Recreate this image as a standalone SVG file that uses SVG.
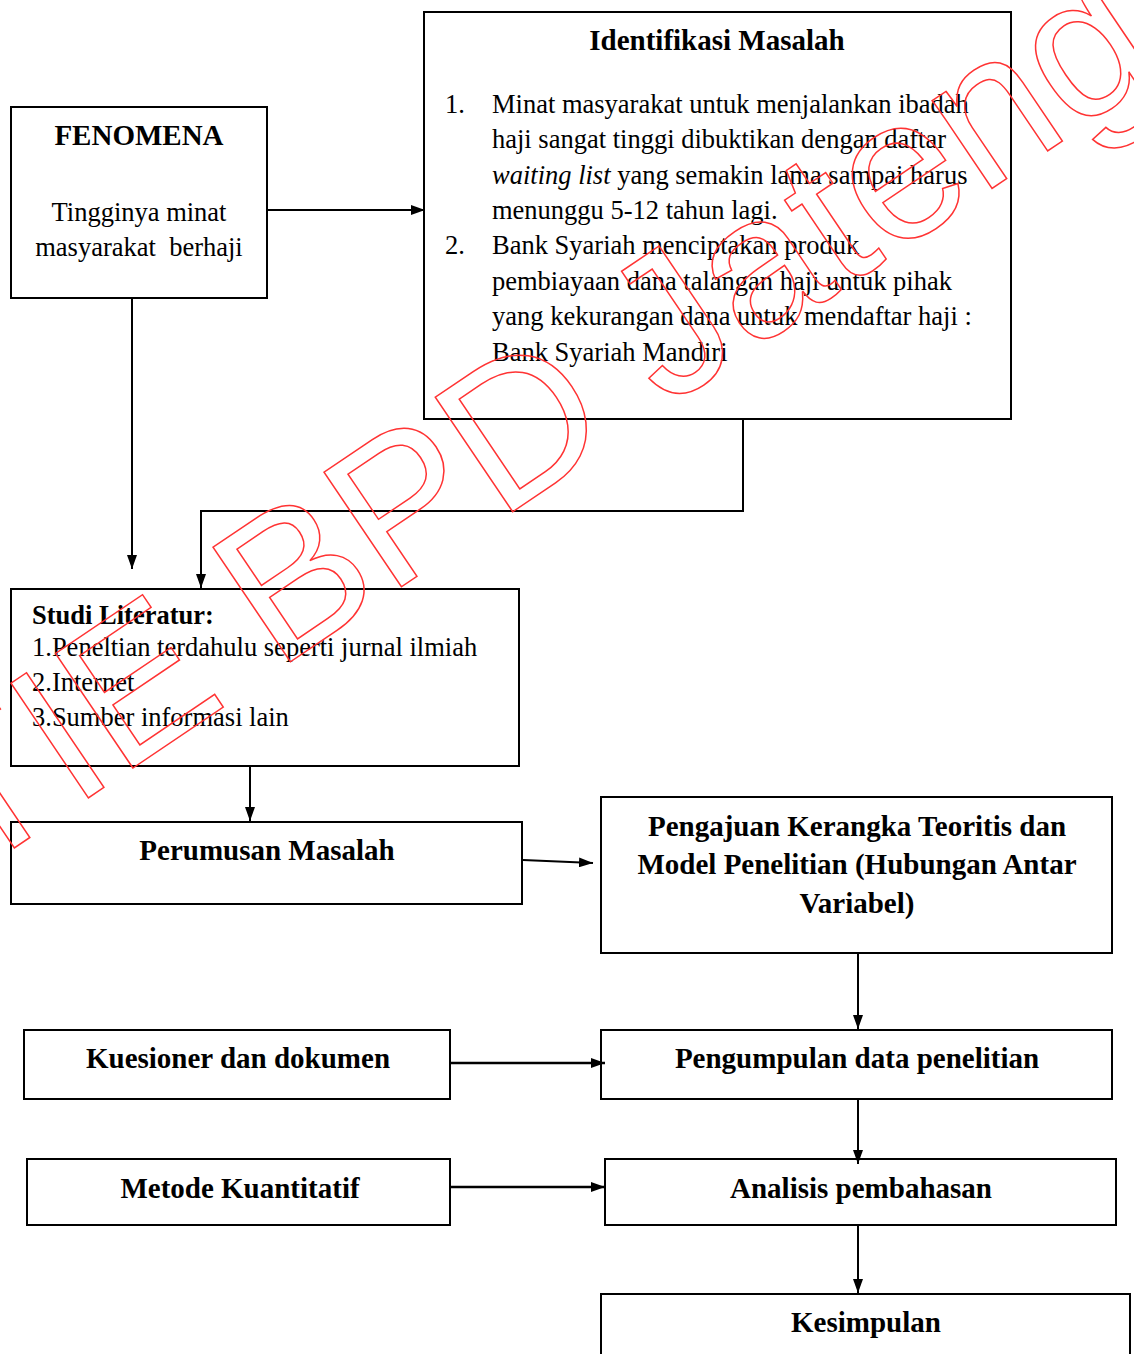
<svg xmlns="http://www.w3.org/2000/svg" width="1134" height="1354" viewBox="0 0 1134 1354">
<defs>
<marker id="ah" viewBox="0 0 14 10" refX="14" refY="5" markerWidth="14" markerHeight="10" markerUnits="userSpaceOnUse" orient="auto">
<path d="M0,0 L14,5 L0,10 Z" fill="#000"/>
</marker>
<style>
.box{fill:#fff;stroke:#000;stroke-width:2}
.t{font-family:"Liberation Serif","Times New Roman",serif;font-size:26.5px;fill:#000}
.b{font-family:"Liberation Serif","Times New Roman",serif;font-size:29px;font-weight:bold;fill:#000}
.c{text-anchor:middle}
.ln{fill:none;stroke:#000;stroke-width:2}
.wm{font-family:"Liberation Sans",Arial,sans-serif;font-size:201px;fill:none;stroke:#f33;stroke-width:1.5}
</style>
</defs>
<rect width="1134" height="1354" fill="#fff"/>

<g id="fenomena">
<rect class="box" x="11" y="107" width="256" height="191"/>
<text class="b c" x="139" y="145">FENOMENA</text>
<text class="t c" x="139" y="221">Tingginya minat</text>
<text class="t c" x="139" y="256" xml:space="preserve">masyarakat  berhaji</text>
</g>

<g id="identifikasi">
<rect class="box" x="424" y="12" width="587" height="407"/>
<text class="b c" x="717" y="50">Identifikasi Masalah</text>
<text class="t" x="445" y="113">1.</text>
<text class="t" x="492" y="113">Minat masyarakat untuk menjalankan ibadah</text>
<text class="t" x="492" y="148">haji sangat tinggi dibuktikan dengan daftar</text>
<text class="t" x="492" y="184"><tspan font-style="italic">waiting list</tspan> yang semakin lama sampai harus</text>
<text class="t" x="492" y="219">menunggu 5-12 tahun lagi.</text>
<text class="t" x="445" y="254">2.</text>
<text class="t" x="492" y="254">Bank Syariah menciptakan produk</text>
<text class="t" x="492" y="290">pembiayaan dana talangan haji untuk pihak</text>
<text class="t" x="492" y="325">yang kekurangan dana untuk mendaftar haji :</text>
<text class="t" x="492" y="361">Bank Syariah Mandiri</text>
</g>

<g id="studi">
<rect class="box" x="11" y="589" width="508" height="177"/>
<text class="b" x="32" y="624" style="font-size:26.5px">Studi Literatur:</text>
<text class="t" x="32" y="656">1.Peneltian terdahulu seperti jurnal ilmiah</text>
<text class="t" x="32" y="691">2.Internet</text>
<text class="t" x="32" y="726">3.Sumber informasi lain</text>
</g>

<g id="perumusan">
<rect class="box" x="11" y="822" width="511" height="82"/>
<text class="b c" x="267" y="860">Perumusan Masalah</text>
</g>

<g id="pengajuan">
<rect class="box" x="601" y="797" width="511" height="156"/>
<text class="b c" x="857" y="836">Pengajuan Kerangka Teoritis dan</text>
<text class="b c" x="857" y="874">Model Penelitian (Hubungan Antar</text>
<text class="b c" x="857" y="913">Variabel)</text>
</g>

<g id="kuesioner">
<rect class="box" x="24" y="1030" width="426" height="69"/>
<text class="b c" x="238" y="1068">Kuesioner dan dokumen</text>
</g>

<g id="pengumpulan">
<rect class="box" x="601" y="1030" width="511" height="69"/>
<text class="b c" x="857" y="1068">Pengumpulan data penelitian</text>
</g>

<g id="metode">
<rect class="box" x="27" y="1159" width="423" height="66"/>
<text class="b c" x="240" y="1198">Metode Kuantitatif</text>
</g>

<g id="analisis">
<rect class="box" x="605" y="1159" width="511" height="66"/>
<text class="b c" x="861" y="1198">Analisis pembahasan</text>
</g>

<g id="kesimpulan">
<rect class="box" x="601" y="1294" width="529" height="70"/>
<text class="b c" x="866" y="1332">Kesimpulan</text>
</g>

<g id="connectors">
<line class="ln" x1="267" y1="210" x2="425" y2="210" marker-end="url(#ah)"/>
<line class="ln" x1="132" y1="298" x2="132" y2="569" marker-end="url(#ah)"/>
<polyline class="ln" points="743,419 743,511 201,511 201,588" marker-end="url(#ah)"/>
<line class="ln" x1="250" y1="766" x2="250" y2="821" marker-end="url(#ah)"/>
<line class="ln" x1="523" y1="860" x2="593" y2="863" marker-end="url(#ah)"/>
<line class="ln" x1="858" y1="953" x2="858" y2="1029" marker-end="url(#ah)"/>
<line class="ln" x1="450" y1="1063" x2="605" y2="1063" marker-end="url(#ah)" style="stroke-width:2.5"/>
<line class="ln" x1="858" y1="1099" x2="858" y2="1164" marker-end="url(#ah)"/>
<line class="ln" x1="450" y1="1187" x2="605" y2="1187" marker-end="url(#ah)" style="stroke-width:2.5"/>
<line class="ln" x1="858" y1="1225" x2="858" y2="1293" marker-end="url(#ah)"/>
</g>

<g id="watermark">
<text class="wm" transform="translate(-140,952) rotate(-34)" x="0" y="0">STIE BPD Jateng</text>
</g>
</svg>
